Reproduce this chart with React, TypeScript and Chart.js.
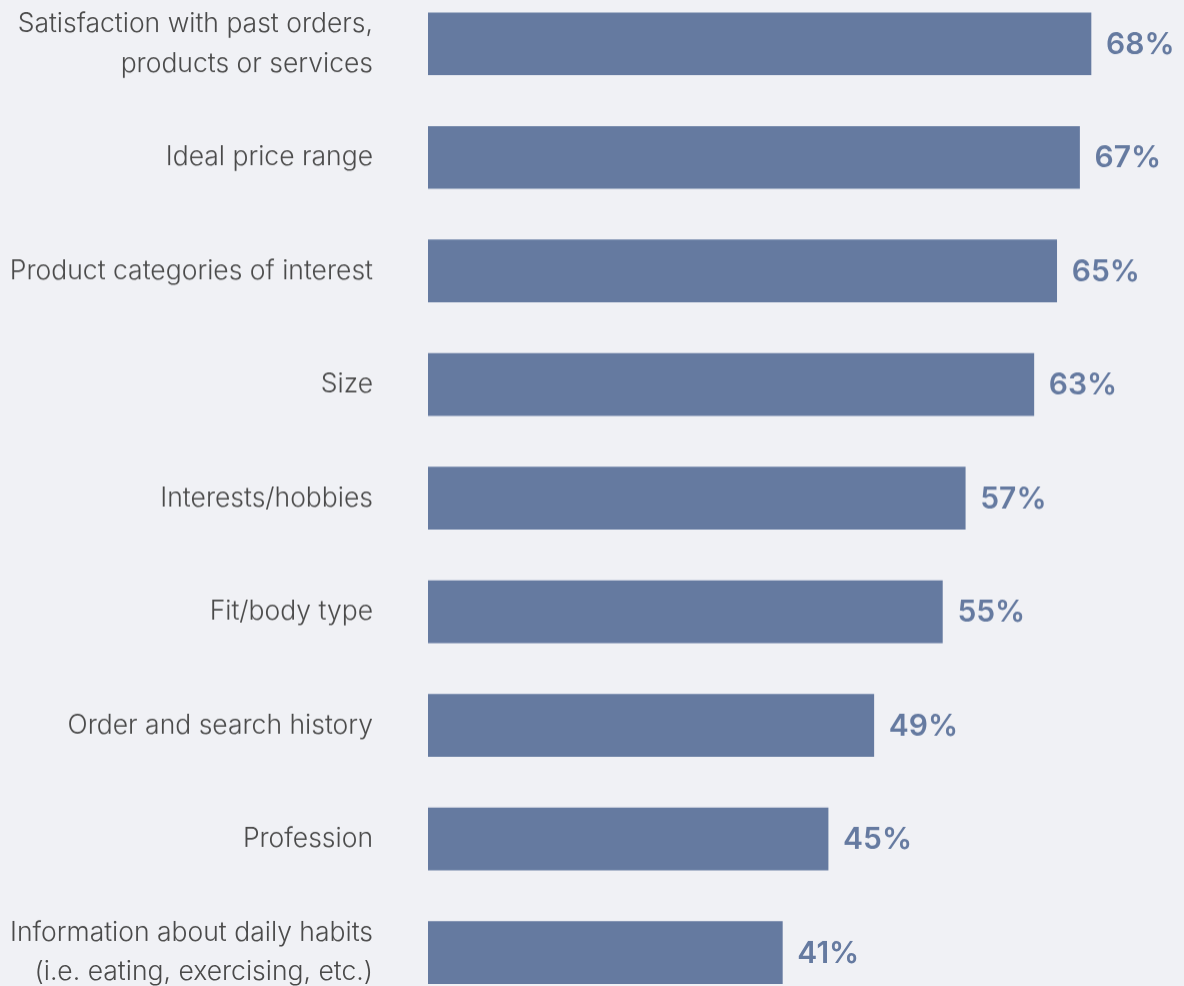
import React, { useEffect, useRef } from "react";
import { Chart, registerables } from "chart.js";

Chart.register(...registerables);

const categories: (string | string[])[] = [
  ["Satisfaction with past orders,", "products or services"],
  "Ideal price range",
  "Product categories of interest",
  "Size",
  "Interests/hobbies",
  "Fit/body type",
  "Order and search history",
  "Profession",
  ["Information about daily habits", "(i.e. eating, exercising, etc.)"],
];
const values: number[] = [68, 67, 65, 63, 57, 55, 49, 45, 41];
const valueLabels: string[] = values.map((v) => v + "%");

const BAR_COLOR = "#657aa0";
const BG = "#f0f1f5";

const valueLabelPlugin = {
  id: "valueLabels",
  afterDatasetsDraw(chart: any) {
    const ctx = chart.ctx;
    const meta = chart.getDatasetMeta(0);
    ctx.save();
    ctx.font = "600 30px Inter";
    ctx.fillStyle = BAR_COLOR;
    ctx.textAlign = "left";
    ctx.textBaseline = "middle";
    meta.data.forEach((bar: any, i: number) => {
      ctx.fillText(valueLabels[i], bar.x + 15, bar.y + 1);
    });
    ctx.restore();
  },
};

export default function App() {
  const ref = useRef<HTMLCanvasElement | null>(null);
  useEffect(() => {
    if (!ref.current) return;
    const chart = new Chart(ref.current, {
      type: "bar",
      data: {
        labels: categories,
        datasets: [
          {
            data: values,
            backgroundColor: BAR_COLOR,
            barThickness: 62,
            borderWidth: 0,
          },
        ],
      },
      options: {
        indexAxis: "y",
        animation: false,
        responsive: true,
        maintainAspectRatio: false,
        layout: { padding: { left: 0, right: 13, top: 0, bottom: 0 } },
        plugins: {
          legend: { display: false },
          tooltip: { enabled: false },
        },
        scales: {
          x: {
            display: false,
            min: 10,
            max: 75,
          },
          y: {
            grid: { display: false, drawTicks: false },
            border: { display: false },
            afterFit(scale: any) {
              scale.width = 428;
              scale.paddingTop = 0;
              scale.paddingBottom = 0;
            },
            ticks: {
              padding: 55,
              color: "#4a4a4a",
              font: { family: "Inter", size: 26.5, weight: 300, lineHeight: 1.5 },
              crossAlign: "near",
            },
          },
        },
      },
      plugins: [valueLabelPlugin],
    });
    return () => chart.destroy();
  }, []);
  return (
    <div
      style={{
        position: "fixed",
        left: 0,
        top: 0,
        width: 1184,
        height: 986,
        background: BG,
        overflow: "hidden",
      }}
    >
      <div style={{ position: "absolute", left: 0, top: -12.7, width: 1184, height: 1021.3 }}>
        <canvas ref={ref} />
      </div>
    </div>
  );
}
